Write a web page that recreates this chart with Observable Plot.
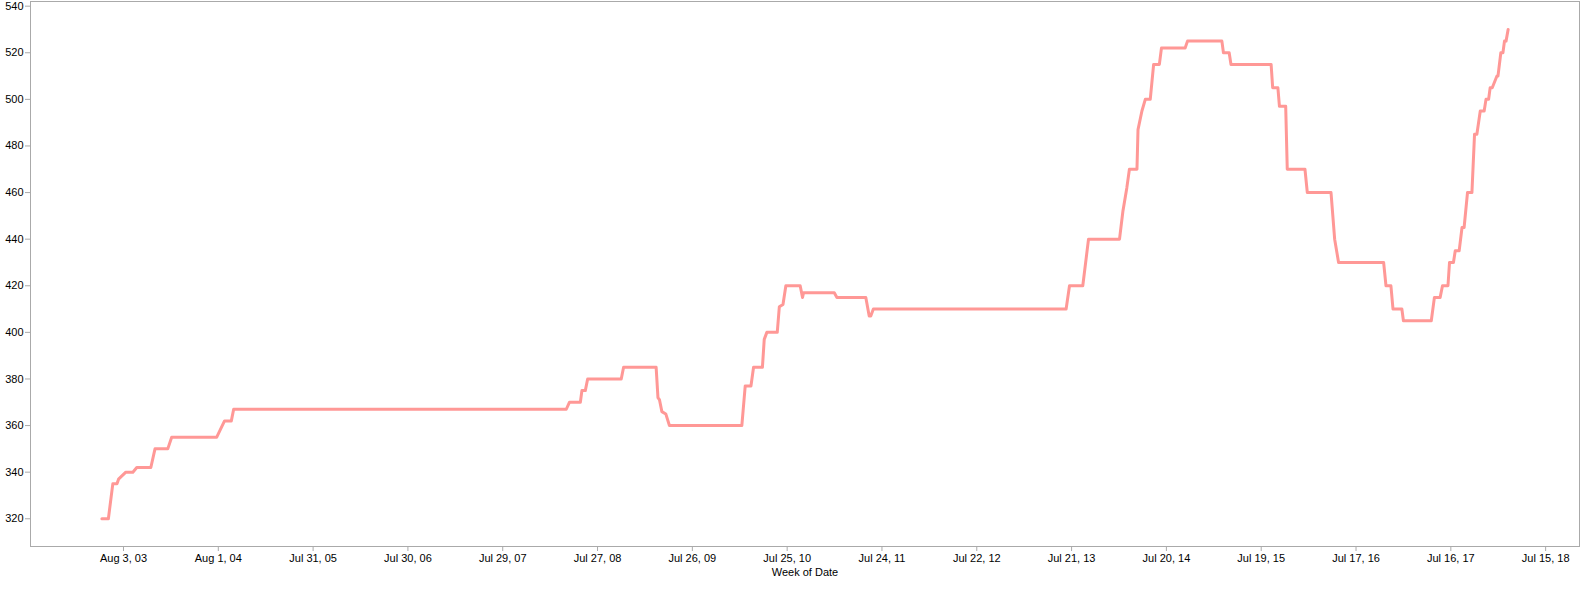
<!DOCTYPE html>
<html><head><meta charset="utf-8">
<script src="https://cdn.jsdelivr.net/npm/d3@7"></script>
<script src="https://cdn.jsdelivr.net/npm/@observablehq/plot@0.6"></script>
<style>body{margin:0;background:#fff}</style>
</head><body><div id="chart"></div>
<script>
const dates = ["2003-05-12","2003-06-06","2003-06-23","2003-07-09","2003-07-15","2003-08-12","2003-09-08","2003-09-23","2003-11-16","2003-12-02","2004-01-20","2004-02-04","2004-07-26","2004-08-25","2004-09-20","2004-09-29","2008-03-29","2008-04-10","2008-05-22","2008-05-28","2008-06-10","2008-06-19","2008-10-26","2008-11-04","2009-03-09","2009-03-16","2009-03-22","2009-03-31","2009-04-15","2009-04-29","2010-02-01","2010-02-14","2010-03-08","2010-03-18","2010-04-21","2010-04-28","2010-05-08","2010-06-17","2010-06-25","2010-07-09","2010-07-20","2010-09-13","2010-09-22","2010-09-26","2011-01-22","2011-02-01","2011-05-23","2011-06-05","2011-06-11","2011-06-21","2013-06-30","2013-07-13","2013-09-02","2013-09-24","2014-01-21","2014-02-03","2014-02-18","2014-02-28","2014-03-29","2014-04-02","2014-04-17","2014-04-30","2014-05-19","2014-06-01","2014-06-23","2014-07-01","2014-09-30","2014-10-09","2015-02-18","2015-02-24","2015-03-18","2015-03-25","2015-08-26","2015-09-01","2015-09-21","2015-09-27","2015-10-21","2015-10-27","2016-01-03","2016-01-12","2016-04-12","2016-04-26","2016-05-11","2016-10-31","2016-11-09","2016-11-28","2016-12-06","2017-01-09","2017-01-15","2017-05-02","2017-05-14","2017-06-05","2017-06-14","2017-07-05","2017-07-11","2017-07-26","2017-08-02","2017-08-17","2017-08-28","2017-09-05","2017-09-18","2017-10-05","2017-10-15","2017-10-24","2017-11-06","2017-11-21","2017-11-28","2017-12-08","2017-12-14","2017-12-22","2018-01-09","2018-01-13","2018-01-24","2018-02-01","2018-02-07","2018-02-13","2018-02-21"];
const values = [320,320,335,335,337,340,340,342,342,350,350,355,355,362,362,367,367,370,370,375,375,380,380,385,385,372,371,366,365,360,360,377,377,385,385,397,400,400,411,412,420,420,415,417,417,415,415,407,407,410,410,420,420,440,440,452,462,470,470,487,495,500,500,515,515,522,522,525,525,520,520,515,515,505,505,497,497,470,470,460,460,440,430,430,420,420,410,410,405,405,415,415,420,420,430,430,435,435,445,445,460,460,485,485,495,495,500,500,505,505,510,510,520,520,525,525,530];
const xTickDates = ["2003-08-03","2004-08-01","2005-07-31","2006-07-30","2007-07-29","2008-07-27","2009-07-26","2010-07-25","2011-07-24","2012-07-22","2013-07-21","2014-07-20","2015-07-19","2016-07-17","2017-07-16","2018-07-15"];
const xTickLabels = ["Aug 3, 03","Aug 1, 04","Jul 31, 05","Jul 30, 06","Jul 29, 07","Jul 27, 08","Jul 26, 09","Jul 25, 10","Jul 24, 11","Jul 22, 12","Jul 21, 13","Jul 20, 14","Jul 19, 15","Jul 17, 16","Jul 16, 17","Jul 15, 18"];
const yTicks = [320,340,360,380,400,420,440,460,480,500,520,540];
const xDomain = ["2002-08-11","2018-11-22"];
const yDomain = [308.1, 542];
const xAxisTitle = "Week of Date";

const data = dates.map((d, i) => ({date: new Date(d), value: values[i]}));
const tickDates = xTickDates.map(d => new Date(d));
const labelByTime = new Map(tickDates.map((d, i) => [+d, xTickLabels[i]]));

const chart = Plot.plot({
  width: 1582, height: 590,
  marginLeft: 30, marginRight: 3, marginTop: 1, marginBottom: 44,
  style: {fontFamily: "'Liberation Sans', Arial, sans-serif", fontSize: "11px", color: "#000", background: "#fff"},
  x: {type: "utc", domain: xDomain.map(d => new Date(d))},
  y: {domain: yDomain},
  marks: [
    Plot.frame({stroke: "#aaa"}),
    Plot.axisY({ticks: yTicks, tickSize: 5, tickPadding: 2, stroke: "#aaa", fill: "#000", label: null}),
    Plot.axisX({ticks: tickDates, tickFormat: d => labelByTime.get(+d), tickSize: 5, tickPadding: 3, stroke: "#aaa", fill: "#000", label: null}),
    Plot.text([xAxisTitle], {frameAnchor: "bottom", dy: 29, text: d => d, fill: "#000"}),
    Plot.line(data, {x: "date", y: "value", stroke: "#ff9896", strokeWidth: 3, strokeLinejoin: "round"})
  ]
});
document.getElementById("chart").appendChild(chart);
</script>
</body></html>
